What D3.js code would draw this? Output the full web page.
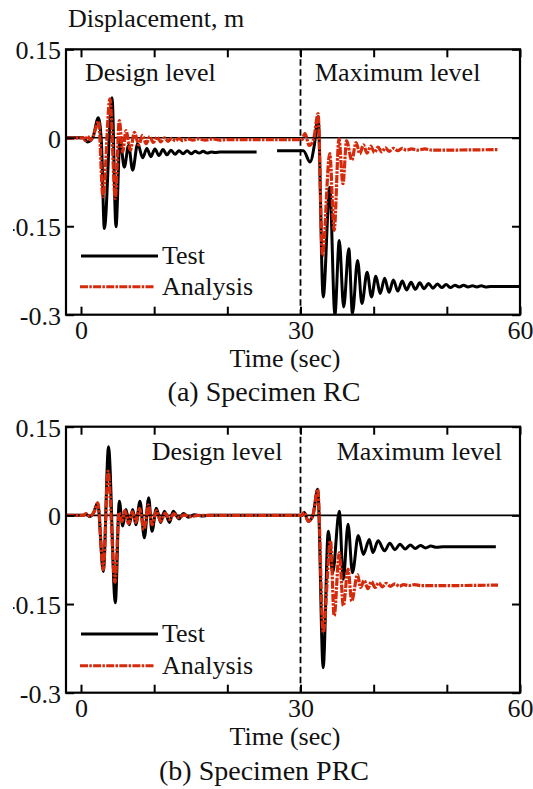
<!DOCTYPE html>
<html>
<head>
<meta charset="utf-8">
<script src="https://cdn.jsdelivr.net/npm/d3@7"></script>
<style>
  body { margin: 0; background: #fff; }
  svg text { font-family: "Liberation Serif", "Times New Roman", serif; fill: #111; }
</style>
</head>
<body>
<div id="chart"></div>
<script>
// Axes
const timeTicks = [0, 10, 20, 30, 40, 50, 60];
const timeLabels = [0, 30, 60];
const dispTicks = [-0.3, -0.15, 0, 0.15];

// (a) Specimen RC : [time (sec), displacement (m)]
const rcTestDesign = [[-2,0],[0.3,0],[0.9,-0.007],[1.6,0],[2.37,0.034],[2.8,-0.01],[3.19,-0.154],[4.24,0.068],[4.78,-0.151],[5.33,-0.002],[5.92,-0.05],[6.5,-0.013],[7.06,-0.055],[7.75,-0.01],[8.43,-0.034],[9.0,-0.018],[9.55,-0.032],[10.1,-0.019],[10.65,-0.03],[11.2,-0.02],[11.75,-0.029],[12.3,-0.021],[12.85,-0.028],[13.4,-0.022],[13.95,-0.027],[14.5,-0.022],[15.05,-0.027],[15.6,-0.023],[16.15,-0.026],[16.7,-0.023],[17.25,-0.026],[17.8,-0.024],[18.35,-0.025],[19,-0.024],[24,-0.024]];
const rcTestMax = [[26.8,-0.022],[30.4,-0.022],[31.3,-0.041],[31.9,-0.012],[32.4,0.036],[33.1,-0.27],[34.0,-0.084],[34.7,-0.3],[35.3,-0.174],[35.9,-0.287],[36.6,-0.188],[37.1,-0.298],[37.8,-0.208],[38.4,-0.281],[39.1,-0.228],[39.7,-0.27],[40.3,-0.235],[40.9,-0.264],[41.5,-0.238],[42.1,-0.262],[42.7,-0.241],[43.3,-0.26],[43.9,-0.243],[44.5,-0.258],[45.1,-0.245],[45.7,-0.257],[46.3,-0.246],[46.9,-0.256],[47.5,-0.247],[48.1,-0.255],[48.7,-0.248],[49.3,-0.254],[49.9,-0.249],[50.5,-0.254],[51.1,-0.25],[51.7,-0.253],[52.3,-0.25],[52.9,-0.253],[53.5,-0.251],[54.1,-0.253],[54.7,-0.251],[55.3,-0.253],[56,-0.252],[60,-0.252]];
const rcAnalysis = [[-2,-0.001],[0.3,0],[0.6,-0.005],[0.9,0.003],[1.3,-0.004],[1.7,0.004],[2.4,0.028],[3.0,-0.1],[3.96,0.066],[4.69,-0.103],[5.24,0.029],[5.7,-0.024],[6.15,0.012],[6.74,-0.021],[7.3,0.009],[7.9,-0.012],[8.4,0.004],[8.9,-0.01],[9.4,0.002],[9.9,-0.008],[10.4,0.001],[10.9,-0.007],[11.4,0],[11.9,-0.006],[12.4,-0.001],[12.9,-0.005],[13.4,-0.001],[13.9,-0.005],[14.6,-0.002],[15.3,-0.004],[16,-0.002],[17,-0.004],[18,-0.002],[19,-0.004],[20,-0.003],[30.2,-0.003],[30.6,0.007],[31.2,-0.013],[31.8,-0.002],[32.4,0.041],[33.0,-0.2],[34.0,-0.027],[34.6,-0.157],[35.26,-0.002],[35.8,-0.078],[36.3,-0.005],[37.0,-0.038],[37.6,-0.008],[38.1,-0.027],[38.6,-0.012],[39.1,-0.026],[39.6,-0.014],[40.1,-0.025],[40.6,-0.016],[41.1,-0.024],[41.6,-0.017],[42.1,-0.023],[42.7,-0.018],[43.3,-0.022],[43.9,-0.018],[44.5,-0.021],[45.2,-0.019],[46,-0.021],[47,-0.019],[48,-0.021],[57,-0.02]];

// (b) Specimen PRC
const prcTest = [[-2,0],[0.3,0],[0.7,0.002],[1.2,-0.002],[1.7,0.004],[2.28,0.021],[3.05,-0.095],[3.76,0.116],[4.69,-0.148],[5.24,0.024],[5.7,-0.018],[6.15,0.01],[6.6,-0.016],[7.06,0.01],[7.5,-0.016],[8.06,0.024],[8.66,-0.038],[9.25,0.03],[9.7,-0.027],[10.3,0.012],[10.9,-0.012],[11.4,0.007],[12.1,-0.012],[12.6,0.007],[13.4,-0.006],[14.0,0.003],[14.7,-0.003],[15.5,0.001],[16.5,-0.001],[17.5,0],[30.2,0],[30.5,0.005],[31.07,-0.01],[31.7,0],[32.35,0.044],[33.1,-0.258],[33.8,-0.027],[34.4,-0.097],[35.3,0.007],[35.85,-0.108],[36.5,-0.015],[37.1,-0.097],[37.9,-0.034],[38.6,-0.066],[39.4,-0.041],[39.9,-0.063],[40.6,-0.043],[41.5,-0.06],[42.2,-0.047],[42.9,-0.058],[43.6,-0.049],[44.3,-0.057],[45.0,-0.05],[45.7,-0.056],[46.4,-0.051],[47.1,-0.055],[47.8,-0.052],[48.6,-0.054],[49.5,-0.053],[56.7,-0.053]];
const prcAnalysis = [[-2,0],[0.3,0],[0.7,0.003],[1.2,-0.002],[1.8,0.006],[2.3,0.021],[3.05,-0.092],[3.7,0.075],[4.65,-0.113],[5.2,0.005],[5.6,-0.01],[6.0,0.008],[6.5,-0.014],[7.0,0.006],[7.5,-0.012],[8.0,0.012],[8.6,-0.024],[9.2,0.018],[9.7,-0.016],[10.3,0.008],[10.9,-0.01],[11.5,0.004],[12.1,-0.007],[12.7,0.003],[13.4,-0.004],[14.1,0.001],[15,-0.002],[16,0],[30.2,0],[30.5,0.005],[31.07,-0.01],[31.7,0],[32.35,0.044],[33.1,-0.198],[34.1,-0.043],[34.6,-0.17],[35.3,-0.063],[35.85,-0.153],[36.5,-0.091],[37.0,-0.145],[37.8,-0.1],[38.2,-0.122],[38.7,-0.11],[39.2,-0.124],[39.7,-0.112],[40.2,-0.122],[40.7,-0.114],[41.2,-0.121],[41.7,-0.115],[42.3,-0.12],[42.9,-0.116],[43.5,-0.12],[44.1,-0.117],[44.8,-0.119],[45.6,-0.117],[46.5,-0.119],[57,-0.118]];

const legendLabels = ["Test", "Analysis"];
const levelLabels = ["Design level", "Maximum level"];
const captions = ["(a) Specimen RC", "(b) Specimen PRC"];

const W = 533, H = 789;
const red = "#d62a0c";

const svg = d3.select("#chart").append("svg")
    .attr("width", W)
    .attr("height", H);

// emplacement des deux graphiques
const panels = [
    { top: 49.3, bottom: 314.7, test: [rcTestDesign, rcTestMax], analysis: rcAnalysis,
      levelX: [85, 315], levelY: 81, legY: [256, 286.7], timeY: 367, capY: 401, caption: captions[0] },
    { top: 426.7, bottom: 692.7, test: [prcTest], analysis: prcAnalysis,
      levelX: [151.7, 336.7], levelY: 460, legY: [634, 665.7], timeY: 745, capY: 780, caption: captions[1] }
];

const left = 66, right = 520;

svg.append("text")
    .attr("x", 68).attr("y", 26.7)
    .style("font-size", "26px")
    .text("Displacement, m");

panels.forEach((p, k) => {
    const x = d3.scaleLinear().domain([-2.05, 60]).range([left, right]);
    const y = d3.scaleLinear().domain([-0.3, 0.15]).range([p.bottom, p.top]);
    const g = svg.append("g");

    const clipId = "clip" + k;
    svg.append("clipPath").attr("id", clipId)
        .append("rect")
        .attr("x", left).attr("y", p.top)
        .attr("width", right - left).attr("height", p.bottom - p.top);

    // ligne du zéro
    g.append("line")
        .attr("x1", left).attr("x2", right)
        .attr("y1", y(0)).attr("y2", y(0))
        .attr("stroke", "#000").attr("stroke-width", 1.6);

    // séparation entre les deux niveaux
    g.append("line")
        .attr("x1", x(30)).attr("x2", x(30))
        .attr("y1", p.top).attr("y2", p.bottom)
        .attr("stroke", "#000").attr("stroke-width", 1.8)
        .attr("stroke-dasharray", "6.5,3.5");

    const line = d3.line()
        .x(d => x(d[0]))
        .y(d => y(d[1]))
        .curve(d3.curveMonotoneX);

    const plot = g.append("g").attr("clip-path", `url(#${clipId})`);

    p.test.forEach(s => {
        plot.append("path")
            .datum(s)
            .attr("fill", "none")
            .attr("stroke", "#000")
            .attr("stroke-width", 3)
            .attr("stroke-linejoin", "round")
            .attr("d", line);
    });

    plot.append("path")
        .datum(p.analysis)
        .attr("fill", "none")
        .attr("stroke", red)
        .attr("stroke-width", 3.2)
        .attr("stroke-dasharray", "8,1.3,2.5,1.3")
        .attr("d", line);

    // axes, graduations vers l'intérieur
    const fmtT = d => timeLabels.includes(d) ? d : "";
    const fmtY = d => d === 0 ? "0" : String(d);

    g.append("g")
        .attr("class", "axis")
        .attr("transform", `translate(0,${p.bottom})`)
        .call(d3.axisBottom(x).tickValues(timeTicks).tickSize(-8).tickPadding(6).tickFormat(fmtT));
    g.append("g")
        .attr("class", "axis")
        .attr("transform", `translate(0,${p.top})`)
        .call(d3.axisTop(x).tickValues(timeTicks).tickSize(-8).tickFormat(""));
    g.append("g")
        .attr("class", "axis")
        .attr("transform", `translate(${left},0)`)
        .call(d3.axisLeft(y).tickValues(dispTicks).tickSize(-8).tickPadding(5).tickFormat(fmtY));
    g.append("g")
        .attr("class", "axis")
        .attr("transform", `translate(${right},0)`)
        .call(d3.axisRight(y).tickValues(dispTicks).tickSize(-8).tickFormat(""));

    g.selectAll(".axis .domain").remove();
    g.selectAll(".axis line").attr("stroke", "#000").attr("stroke-width", 2);
    g.selectAll(".axis text")
        .style("font-size", "26px")
        .attr("fill", "#111");
    g.selectAll(".axis text").filter(function() { return this.getAttribute("dy") === "0.32em"; })
        .attr("dy", "0.36em");

    // cadre
    g.append("rect")
        .attr("x", left).attr("y", p.top)
        .attr("width", right - left).attr("height", p.bottom - p.top)
        .attr("fill", "none").attr("stroke", "#000").attr("stroke-width", 2.2);

    levelLabels.forEach((t, i) => {
        g.append("text")
            .attr("x", p.levelX[i]).attr("y", p.levelY)
            .style("font-size", "26px")
            .text(t);
    });

    // légende
    const leg = g.selectAll(".legend")
        .data(legendLabels)
        .enter().append("g")
        .attr("class", "legend");

    leg.append("line")
        .attr("x1", (d, i) => i ? 80 : 81)
        .attr("x2", (d, i) => i ? 154 : 158)
        .attr("y1", (d, i) => p.legY[i])
        .attr("y2", (d, i) => p.legY[i])
        .attr("stroke", (d, i) => i ? red : "#000")
        .attr("stroke-width", 3)
        .attr("stroke-dasharray", (d, i) => i ? "8,1.3,2.5,1.3" : null);

    leg.append("text")
        .attr("x", 162)
        .attr("y", (d, i) => p.legY[i] + 8.3)
        .style("font-size", "26px")
        .text(d => d);

    g.append("text")
        .attr("x", 285).attr("y", p.timeY)
        .attr("text-anchor", "middle")
        .style("font-size", "26px")
        .text("Time (sec)");

    g.append("text")
        .attr("x", 264).attr("y", p.capY)
        .attr("text-anchor", "middle")
        .style("font-size", "28px")
        .text(p.caption);
});

// la figure d'origine est rognée à gauche
svg.append("rect")
    .attr("x", 0).attr("y", 0)
    .attr("width", 13).attr("height", H)
    .attr("fill", "#fff");
</script>
</body>
</html>
